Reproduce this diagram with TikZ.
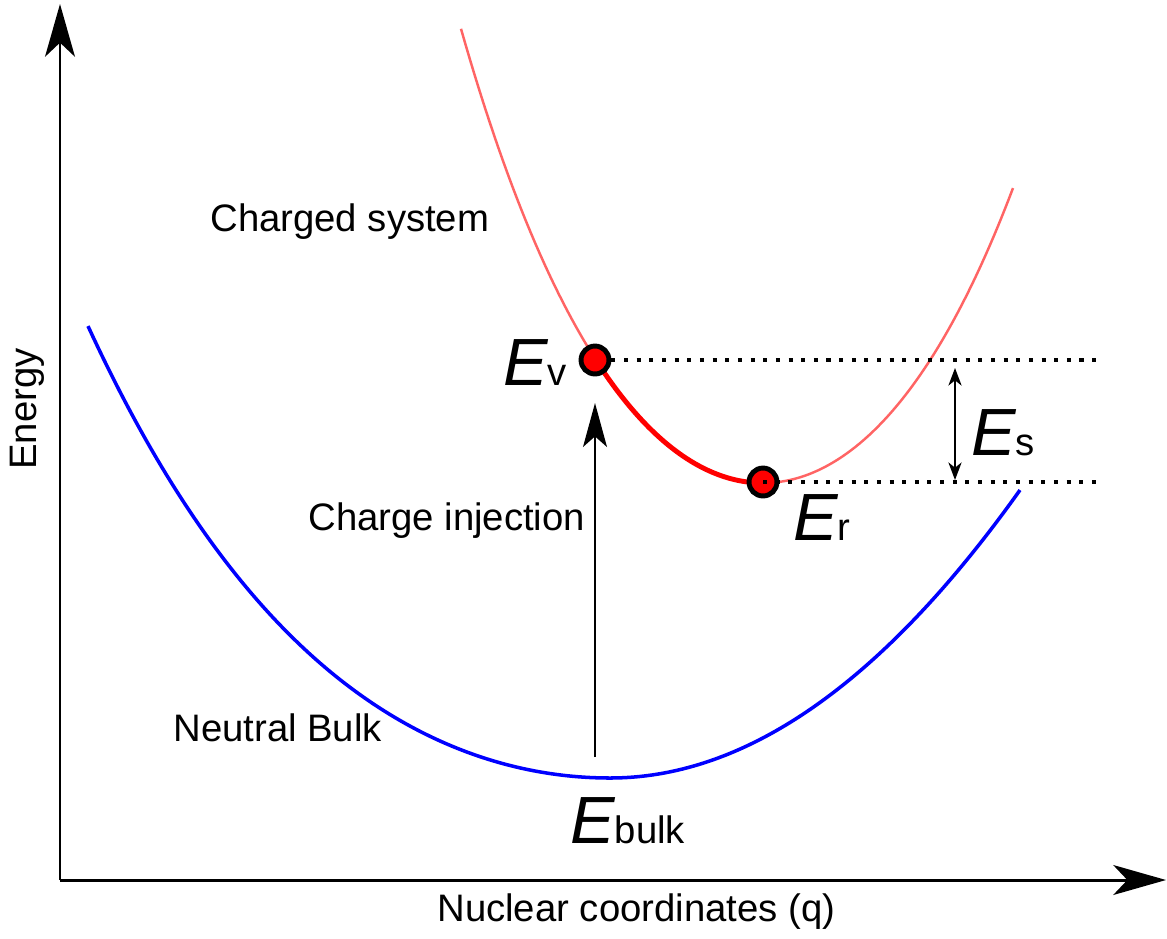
\documentclass[tikz,border=0pt]{standalone}
\usepackage{fontspec}
\setmainfont{Liberation Sans}
\usetikzlibrary{arrows.meta}
\definecolor{lightred}{RGB}{255,100,100}
\newcommand{\en}[1]{{\fontsize{38}{40}\selectfont\itshape E}#1}

\begin{document}
\begin{tikzpicture}[
  x=0.02cm, y=-0.02cm,
  font=\fontsize{21.8}{26}\selectfont,
  lab/.style={inner sep=0pt, anchor=base west},
  axis/.style={line width=1.7pt, -{Stealth[length=30pt, width=17pt, inset=8pt]}},
  inj/.style={line width=1.4pt, -{Stealth[length=25pt, width=13.6pt, inset=6pt]}},
  gap/.style={line width=1.1pt, {Stealth[length=10pt, width=7.5pt, inset=3pt]}-{Stealth[length=10pt, width=7.5pt, inset=3pt]}},
  dot/.style={circle, draw=black, fill=red, line width=2.8pt, minimum size=15.9pt, inner sep=0pt},
  dotline/.style={line width=2.3pt, dash pattern=on 2.3pt off 4.9pt}
]
\useasboundingbox (0,0) rectangle (1167,938);
\coordinate (o) at (60,880);
\coordinate (ytop) at (60,4);
\coordinate (xend) at (1166,880);
\draw[axis] (o) -- (ytop);
\draw[axis] (o) -- (xend);
\node[lab, rotate=90] (energy) at (36,470) {Energy};
\node[lab] (nuc) at (437,921) {Nuclear coordinates (q)};

\draw[blue, line width=2pt] plot[domain=88:610, samples=100] (\x, {778 - 12.37*((\x-610)/100)^2 - 0.1547*((\x-610)/100)^4})
  -- plot[domain=610:1020, samples=80] (\x, {778 - 17.13*((\x-610)/100)^2});
\draw[lightred, line width=1.4pt] plot[domain=461:1013, samples=120] (\x, {483 - 41.5*((\x-763)/100)^2 - 0.91*((\x-763)/100)^4});
\draw[red, line width=2.8pt] plot[domain=595:763, samples=60] (\x, {483 - 41.5*((\x-763)/100)^2 - 0.91*((\x-763)/100)^4});

\node[dot] (ev) at (595,360) {};
\node[dot] (er) at (763,482) {};
\coordinate (evend) at (1100,360);
\coordinate (erend) at (1103,482);
\draw[dotline] (ev) -- (evend);
\draw[dotline] (er.center) -- (erend);

\coordinate (inj0) at (595,757);
\coordinate (inj1) at (595,403);
\draw[inj] (inj0) -- (inj1);
\coordinate (es0) at (955,368);
\coordinate (es1) at (955,480);
\draw[gap] (es0) -- (es1);

\node[lab] (charged) at (210,231) {Charged system};
\node[lab] (neutral) at (173,741) {Neutral Bulk};
\node[lab] (injection) at (308,530) {Charge injection};
\node[lab] (evlab) at (503,385) {\en{v}};
\node[lab] (erlab) at (793,540) {\en{r}};
\node[lab] (eslab) at (971,455) {\en{s}};
\node[lab] (bulklab) at (570,843) {\en{bulk}};
\end{tikzpicture}
\end{document}
